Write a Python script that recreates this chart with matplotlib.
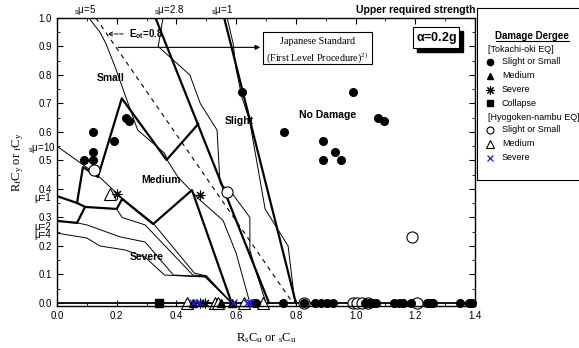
import matplotlib
matplotlib.use('Agg')
import matplotlib.pyplot as plt
from matplotlib.patches import Rectangle
from matplotlib.ticker import MultipleLocator, FormatStrFormatter

plt.rcParams['font.family'] = ['Liberation Sans', 'DejaVu Sans']
plt.rcParams['mathtext.default'] = 'regular'

# boundary lines
mu1_thick_x = [0.56, 0.80]
mu1_thick_y = [1.0, 0.0]
mu28_thick_x = [0.33, 0.71]
mu28_thick_y = [1.0, 0.0]
eot_x = [0.13, 0.79]
eot_y = [1.0, 0.0]

upper_thick_x = [0.067, 0.087, 0.137, 0.217, 0.367, 0.473]
upper_thick_y = [0.351, 0.477, 0.442, 0.718, 0.502, 0.628]
medium_thick_x = [0.0, 0.067, 0.094, 0.20, 0.218, 0.322, 0.452, 0.585]
medium_thick_y = [0.375, 0.351, 0.337, 0.330, 0.365, 0.277, 0.396, 0.0]
mu2_thick_x = [0.0, 0.067, 0.094]
mu2_thick_y = [0.288, 0.281, 0.337]

mu10_x = [0.0, 0.067, 0.094, 0.134, 0.218, 0.322, 0.46, 0.50, 0.585]
mu10_y = [0.55, 0.50, 0.48, 0.45, 0.368, 0.28, 0.105, 0.095, 0.0]
mu1f_x = [0.20, 0.218, 0.295, 0.455, 0.50, 0.585]
mu1f_y = [0.330, 0.30, 0.274, 0.098, 0.095, 0.0]
mu2_x = [0.067, 0.10, 0.211, 0.295, 0.39, 0.496, 0.585]
mu2_y = [0.281, 0.274, 0.232, 0.214, 0.098, 0.093, 0.0]
mu4_x = [0.0, 0.10, 0.144, 0.228, 0.295, 0.36, 0.496, 0.585]
mu4_y = [0.245, 0.228, 0.20, 0.186, 0.161, 0.098, 0.091, 0.0]
mu5_x = [0.107, 0.144, 0.164, 0.194, 0.27, 0.36, 0.37, 0.405, 0.48, 0.556, 0.60, 0.646]
mu5_y = [1.0, 0.95, 0.91, 0.83, 0.607, 0.526, 0.50, 0.442, 0.36, 0.29, 0.175, 0.0]
mu28_x = [0.355, 0.339, 0.445, 0.48, 0.536, 0.546, 0.59, 0.646, 0.646, 0.67, 0.70]
mu28_y = [1.0, 0.90, 0.80, 0.70, 0.607, 0.42, 0.38, 0.30, 0.186, 0.098, 0.0]
mu1_x = [0.57, 0.59, 0.60, 0.62, 0.645, 0.697, 0.774, 0.797]
mu1_y = [1.0, 0.91, 0.82, 0.72, 0.64, 0.33, 0.20, 0.0]

# Tokachi-oki EQ
tok_slight_x = [0.12, 0.09, 0.12, 0.12, 0.19, 0.23, 0.24, 0.62, 0.76, 0.99, 1.075, 1.095,
                0.89, 0.93, 0.89, 0.95,
                0.66, 0.668, 0.757, 0.828, 0.865, 0.885, 0.905, 0.925, 1.03, 1.045, 1.06, 1.07,
                1.13, 1.145, 1.16, 1.185, 1.24, 1.25, 1.26, 1.35, 1.38, 1.39]
tok_slight_y = [0.60, 0.50, 0.53, 0.50, 0.57, 0.65, 0.64, 0.74, 0.60, 0.74, 0.65, 0.64,
                0.57, 0.53, 0.50, 0.50,
                0, 0, 0, 0, 0, 0, 0, 0, 0, 0, 0, 0,
                0, 0, 0, 0, 0, 0, 0, 0, 0, 0]
tok_medium_x = [0.455, 0.55, 0.585]
tok_medium_y = [0, 0, 0]
tok_severe_x = [0.20, 0.48, 0.48, 0.495]
tok_severe_y = [0.383, 0.38, 0, 0]
tok_collapse_x = [0.34]
tok_collapse_y = [0]

# Hyogoken-nambu EQ
hyo_slight_x = [0.125, 0.57, 1.19, 0.828, 0.99, 1.005, 1.02, 1.04, 1.205]
hyo_slight_y = [0.467, 0.39, 0.23, 0, 0, 0, 0, 0, 0]
hyo_medium_x = [0.178, 0.435, 0.53, 0.54, 0.625, 0.69]
hyo_medium_y = [0.383, 0, 0, 0, 0, 0]
hyo_severe_x = [0.455, 0.475, 0.59, 0.635, 0.645]
hyo_severe_y = [0, 0, 0, 0, 0]

W, H = 579, 348
fig = plt.figure(figsize=(W / 100, H / 100), dpi=100)
ax = fig.add_axes([57 / W, 1 - 306.4 / H, 418 / W, 288.4 / H])

for xs, ys in [(mu10_x, mu10_y), (mu1f_x, mu1f_y), (mu2_x, mu2_y), (mu4_x, mu4_y),
               (mu5_x, mu5_y), (mu28_x, mu28_y), (mu1_x, mu1_y)]:
    ax.plot(xs, ys, color='black', lw=0.7)
for xs, ys in [(mu1_thick_x, mu1_thick_y), (mu28_thick_x, mu28_thick_y),
               (upper_thick_x, upper_thick_y), (medium_thick_x, medium_thick_y),
               (mu2_thick_x, mu2_thick_y)]:
    ax.plot(xs, ys, color='black', lw=1.6)
ax.plot(eot_x, eot_y, color='black', lw=0.8, ls=(0, (4, 4)))
ax.axhline(0, color='black', lw=1.3)

ax.plot(hyo_slight_x, hyo_slight_y, 'o', ms=8, mfc='white', mec='black', mew=0.8, clip_on=False)
ax.plot(hyo_medium_x, hyo_medium_y, '^', ms=8, mfc='white', mec='black', mew=0.8, clip_on=False)
ax.plot(tok_slight_x, tok_slight_y, 'o', ms=5.5, color='black', clip_on=False)
ax.plot(tok_medium_x, tok_medium_y, '^', ms=6, color='black', clip_on=False)
ax.plot(tok_severe_x, tok_severe_y, marker=(8, 2, 0), ls='none', ms=7, mew=0.8, color='black', clip_on=False)
ax.plot(tok_collapse_x, tok_collapse_y, 's', ms=6, color='black', clip_on=False)
ax.plot(hyo_severe_x, hyo_severe_y, 'x', ms=6, mew=0.9, color='#1a1aff', clip_on=False)

ax.set_xlim(0, 1.4)
ax.set_ylim(-0.012, 1.0)
ax.xaxis.set_major_locator(MultipleLocator(0.2))
ax.xaxis.set_minor_locator(MultipleLocator(0.1))
ax.yaxis.set_major_locator(MultipleLocator(0.1))
ax.yaxis.set_minor_locator(MultipleLocator(0.05))
ax.xaxis.set_major_formatter(FormatStrFormatter('%.1f'))
ax.yaxis.set_major_formatter(FormatStrFormatter('%.1f'))
ax.tick_params(which='both', direction='in', top=True, right=True, labelsize=7)
ax.tick_params(which='major', length=4)
ax.tick_params(which='minor', length=2)
for s in ax.spines.values():
    s.set_linewidth(1.0)

serif = ['Liberation Serif', 'DejaVu Serif']
ax.set_xlabel('R$_s$C$_u$ or $_s$C$_u$', family=serif, fontsize=9, labelpad=7)
ax.set_ylabel('R$_f$C$_y$ or $_f$C$_y$', family=serif, fontsize=9, labelpad=9)

# region names
bold = dict(fontsize=7.5, fontweight='bold', ha='center', va='center')
ax.text(0.18, 0.79, 'Small', **bold)
ax.text(0.61, 0.64, 'Slight', **bold)
ax.text(0.905, 0.66, 'No Damage', **bold)
ax.text(0.35, 0.43, 'Medium', **bold)
ax.text(0.30, 0.16, 'Severe', **bold)

# curve labels
ax.text(0.094, 1.005, '$_s$μ=5', fontsize=7, ha='center', va='bottom')
ax.text(0.375, 1.005, '$_s$μ=2.8', fontsize=7, ha='center', va='bottom')
ax.text(0.553, 1.005, '$_s$μ=1', fontsize=7, ha='center', va='bottom')
ax.text(-0.005, 0.545, '$_s$μ=10', fontsize=7, ha='right', va='center')
ax.text(-0.02, 0.368, 'μ=1', fontsize=7, ha='right', va='center')
ax.text(-0.02, 0.268, 'μ=2', fontsize=7, ha='right', va='center')
ax.text(-0.02, 0.238, 'μ=4', fontsize=7, ha='right', va='center')
ax.text(1.0, 1.01, 'Upper required strength', transform=ax.transAxes, fontsize=7.5,
        fontweight='bold', ha='right', va='bottom')

# Japanese standard box and arrow
ax.add_patch(Rectangle((0.69, 0.839), 0.365, 0.112, fc='white', ec='black', lw=0.8, zorder=4))
ax.text(0.872, 0.917, 'Japanese Standard', family=serif, fontsize=7.3, ha='center', va='center', zorder=5)
ax.text(0.872, 0.862, '(First Level Procedure)$^{2)}$', family=serif, fontsize=7.3,
        ha='center', va='center', zorder=5)
ax.annotate('', xy=(0.69, 0.897), xytext=(0.195, 0.897),
            arrowprops=dict(arrowstyle='-|>', lw=0.8, color='black', mutation_scale=7))
ax.annotate('E$_{ot}$=0.8', xy=(0.16, 0.944), xytext=(0.24, 0.944), fontsize=7, fontweight='bold',
            va='center', arrowprops=dict(arrowstyle='->', lw=0.7, ls='--', color='black'))

# alpha box, its shadow is a plain rectangle behind it
alpha_txt = ax.text(1.27, 0.93, r'$\alpha$=0.2g', fontsize=9, fontweight='bold', ha='center',
                    va='center', zorder=6,
                    bbox=dict(boxstyle='square,pad=0.2', fc='white', ec='black', lw=0.8))
fig.canvas.draw()
bb = alpha_txt.get_bbox_patch().get_window_extent()
ax.add_patch(Rectangle((bb.x0 + 4, bb.y0 - 4), bb.width, bb.height, transform=None,
                       fc='black', ec='black', zorder=5, clip_on=False))

# legend panel
lax = fig.add_axes([477 / W, 1 - 180 / H, 120 / W, 172 / H])
lax.set_xlim(477, 597)
lax.set_ylim(180, 8)
lax.set_xticks([])
lax.set_yticks([])
lax.spines['right'].set_visible(False)
narrow = ['Liberation Sans Narrow', 'Liberation Sans', 'DejaVu Sans']
lax.text(532, 36, 'Damage Dergee', fontsize=7, fontweight='bold', ha='center', va='center')
lax.plot([496, 569], [41, 41], color='black', lw=0.8)
legend_rows = [
    (49, None, '[Tokachi-oki EQ]'),
    (62, dict(marker='o', ms=4.5, color='black'), 'Slight or Small'),
    (76, dict(marker='^', ms=5, color='black'), 'Medium'),
    (90, dict(marker=(8, 2, 0), ms=6, mew=0.8, color='black'), 'Severe'),
    (103, dict(marker='s', ms=4.5, color='black'), 'Collapse'),
    (117, None, '[Hyogoken-nambu EQ]'),
    (130, dict(marker='o', ms=5, mfc='white', mec='black', mew=0.8), 'Slight or Small'),
    (144, dict(marker='^', ms=5.5, mfc='white', mec='black', mew=0.8), 'Medium'),
    (158, dict(marker='x', ms=5, mew=0.9, color='#1a1aff'), 'Severe'),
]
for y, style, label in legend_rows:
    if style is None:
        lax.text(488, y, label, family=narrow, fontsize=6.5, va='center')
    else:
        lax.plot([490], [y], ls='none', **style)
        lax.text(502, y, label, family=narrow, fontsize=6.5, va='center')

fig.savefig('out.png', dpi=100)
